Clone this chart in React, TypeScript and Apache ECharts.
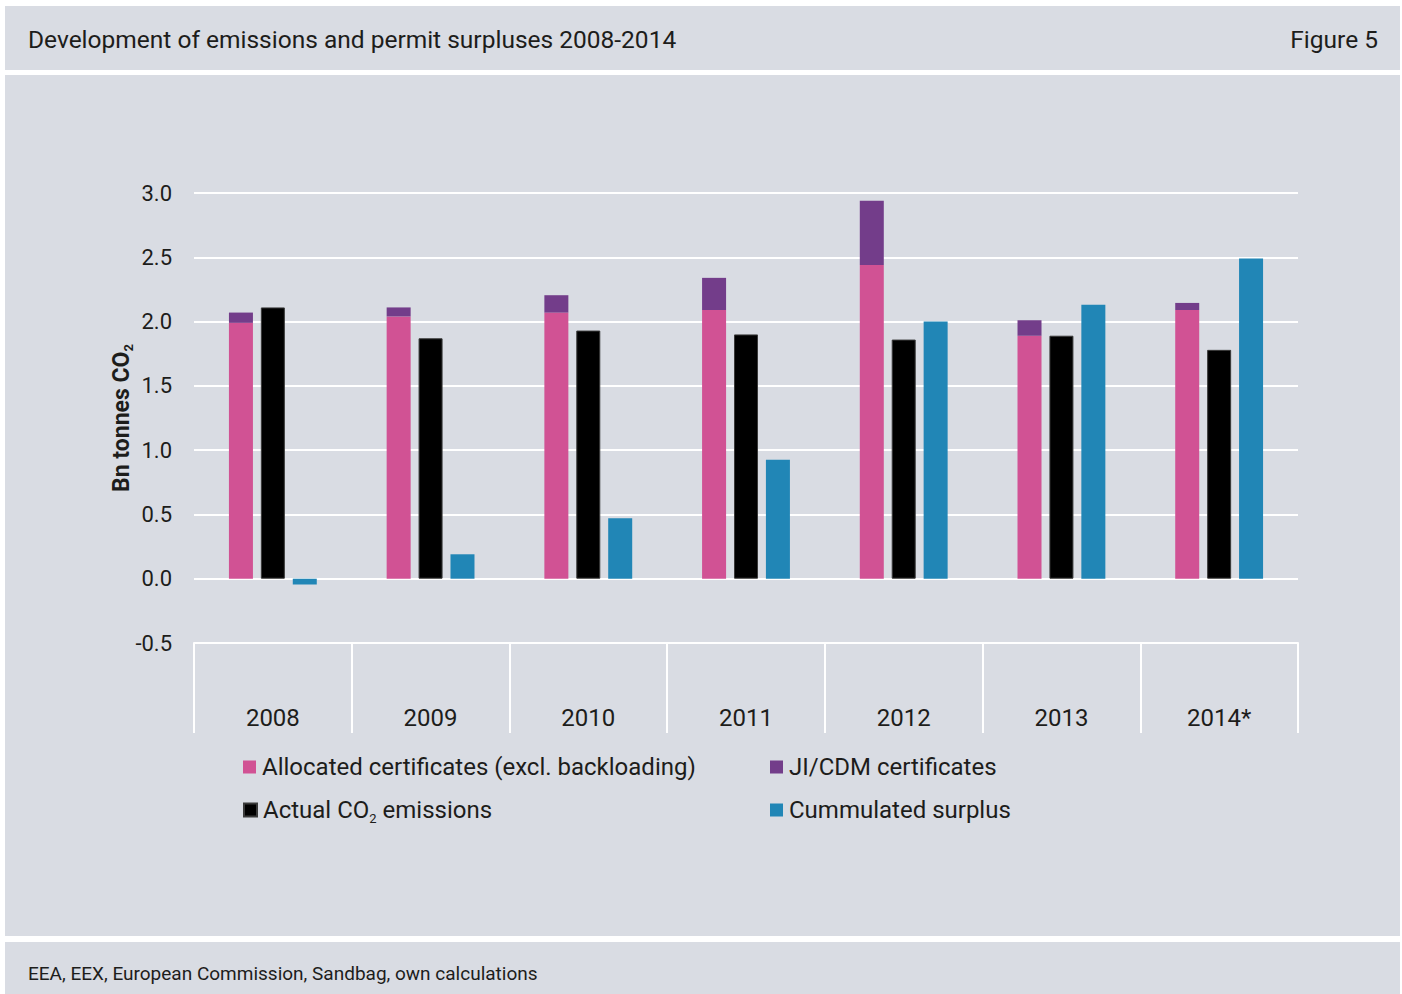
import React, { useEffect, useRef } from "react";
import * as echarts from "echarts";

const categories = ["2008", "2009", "2010", "2011", "2012", "2013", "2014*"];
const allocated = [1.99, 2.04, 2.07, 2.09, 2.44, 1.89, 2.09];
const jiCdm = [0.08, 0.07, 0.135, 0.25, 0.5, 0.12, 0.055];
const emissions = [2.11, 1.87, 1.93, 1.9, 1.86, 1.89, 1.78];
const surplus = [-0.045, 0.19, 0.47, 0.925, 2.0, 2.13, 2.49];

const seriesNames = [
  "Allocated certificates (excl. backloading)",
  "JI/CDM certificates",
  "Actual CO2 emissions",
  "Cummulated surplus",
];

const FONT = "Roboto";
const TXT = "#1d1d1b";
const BG = "#d9dce3";

export default function App() {
  const ref = useRef<HTMLDivElement>(null);
  useEffect(() => {
    if (!ref.current) return;
    const chart = echarts.init(ref.current, null, { renderer: "svg" });
    const legendPos = [
      { left: 243, top: 755 },
      { left: 770, top: 755 },
      { left: 243, top: 798 },
      { left: 770, top: 798 },
    ];
    const legends = seriesNames.map((n, i) => ({
      data: [n],
      ...legendPos[i],
      padding: 0,
      icon: "rect",
      itemWidth: 13,
      itemHeight: 13,
      itemGap: 0,
      selectedMode: false,
      formatter: (name: string) => name.replace("CO2", "CO{sub|2}"),
      textStyle: {
        fontFamily: FONT,
        fontSize: 24,
        color: TXT,
        padding: [0, 0, 0, 1],
        rich: {
          sub: { fontSize: 13, fontFamily: FONT, color: TXT, padding: [16, 0, 0, 0] },
        },
      },
    }));
    chart.setOption({
      animation: false,
      backgroundColor: "#ffffff",
      textStyle: { fontFamily: FONT },
      graphic: [
        { type: "rect", shape: { x: 5, y: 6, width: 1395, height: 64 }, style: { fill: BG }, z: -10 },
        { type: "rect", shape: { x: 5, y: 75, width: 1395, height: 861 }, style: { fill: BG }, z: -10 },
        { type: "rect", shape: { x: 5, y: 942, width: 1395, height: 60 }, style: { fill: BG }, z: -10 },
        {
          type: "text",
          x: 28,
          y: 39,
          style: { text: "Development of emissions and permit surpluses 2008-2014", fontFamily: FONT, fontSize: 24.5, fill: TXT, verticalAlign: "middle" },
        },
        {
          type: "text",
          x: 1378,
          y: 39,
          style: { text: "Figure 5", fontFamily: FONT, fontSize: 24.5, fill: TXT, align: "right", verticalAlign: "middle" },
        },
        {
          type: "text",
          x: 28,
          y: 973,
          style: { text: "EEA, EEX, European Commission, Sandbag, own calculations", fontFamily: FONT, fontSize: 19, fill: TXT, verticalAlign: "middle" },
        },
      ],
      legend: legends,
      grid: { left: 194, right: 104, top: 193, bottom: 351, containLabel: false },
      xAxis: {
        type: "category",
        data: categories,
        boundaryGap: true,
        axisLine: { show: true, onZero: false, lineStyle: { color: "#ffffff", width: 2 } },
        axisTick: { show: true, length: 90, lineStyle: { color: "#ffffff", width: 2 } },
        axisLabel: { margin: 63, fontFamily: FONT, fontSize: 24, color: TXT },
        splitLine: { show: false },
      },
      yAxis: {
        type: "value",
        min: -0.5,
        max: 3,
        interval: 0.5,
        name: "Bn tonnes CO{sub|2}",
        nameLocation: "middle",
        nameGap: 59,
        nameMoveOverlap: false,
        nameRotate: 90,
        nameTextStyle: {
          fontFamily: FONT,
          fontSize: 23,
          fontWeight: "bold",
          color: TXT,
          rich: { sub: { fontSize: 13, fontFamily: FONT, fontWeight: "bold", color: TXT, padding: [15, 0, 0, 0] } },
        },
        axisLine: { show: false },
        axisTick: { show: false },
        axisLabel: { margin: 22, fontFamily: FONT, fontSize: 22, color: TXT, formatter: (v: number) => v.toFixed(1) },
        splitLine: { lineStyle: { color: "#ffffff", width: 2 } },
      },
      series: [
        { name: seriesNames[0], type: "bar", stack: "alloc", data: allocated, barWidth: 24, barGap: "33%", itemStyle: { color: "#d15294" } },
        { name: seriesNames[1], type: "bar", stack: "alloc", data: jiCdm, barWidth: 24, barGap: "33%", itemStyle: { color: "#733d8a" } },
        { name: seriesNames[2], type: "bar", data: emissions, barWidth: 24, barGap: "33%", itemStyle: { color: "#000000", borderColor: "#3a3a3a", borderWidth: 1 } },
        { name: seriesNames[3], type: "bar", data: surplus, barWidth: 24, barGap: "33%", itemStyle: { color: "#2186b6" } },
      ],
    });
    return () => chart.dispose();
  }, []);
  return <div ref={ref} style={{ position: "fixed", left: 0, top: 0, width: 1402, height: 994 }} />;
}
